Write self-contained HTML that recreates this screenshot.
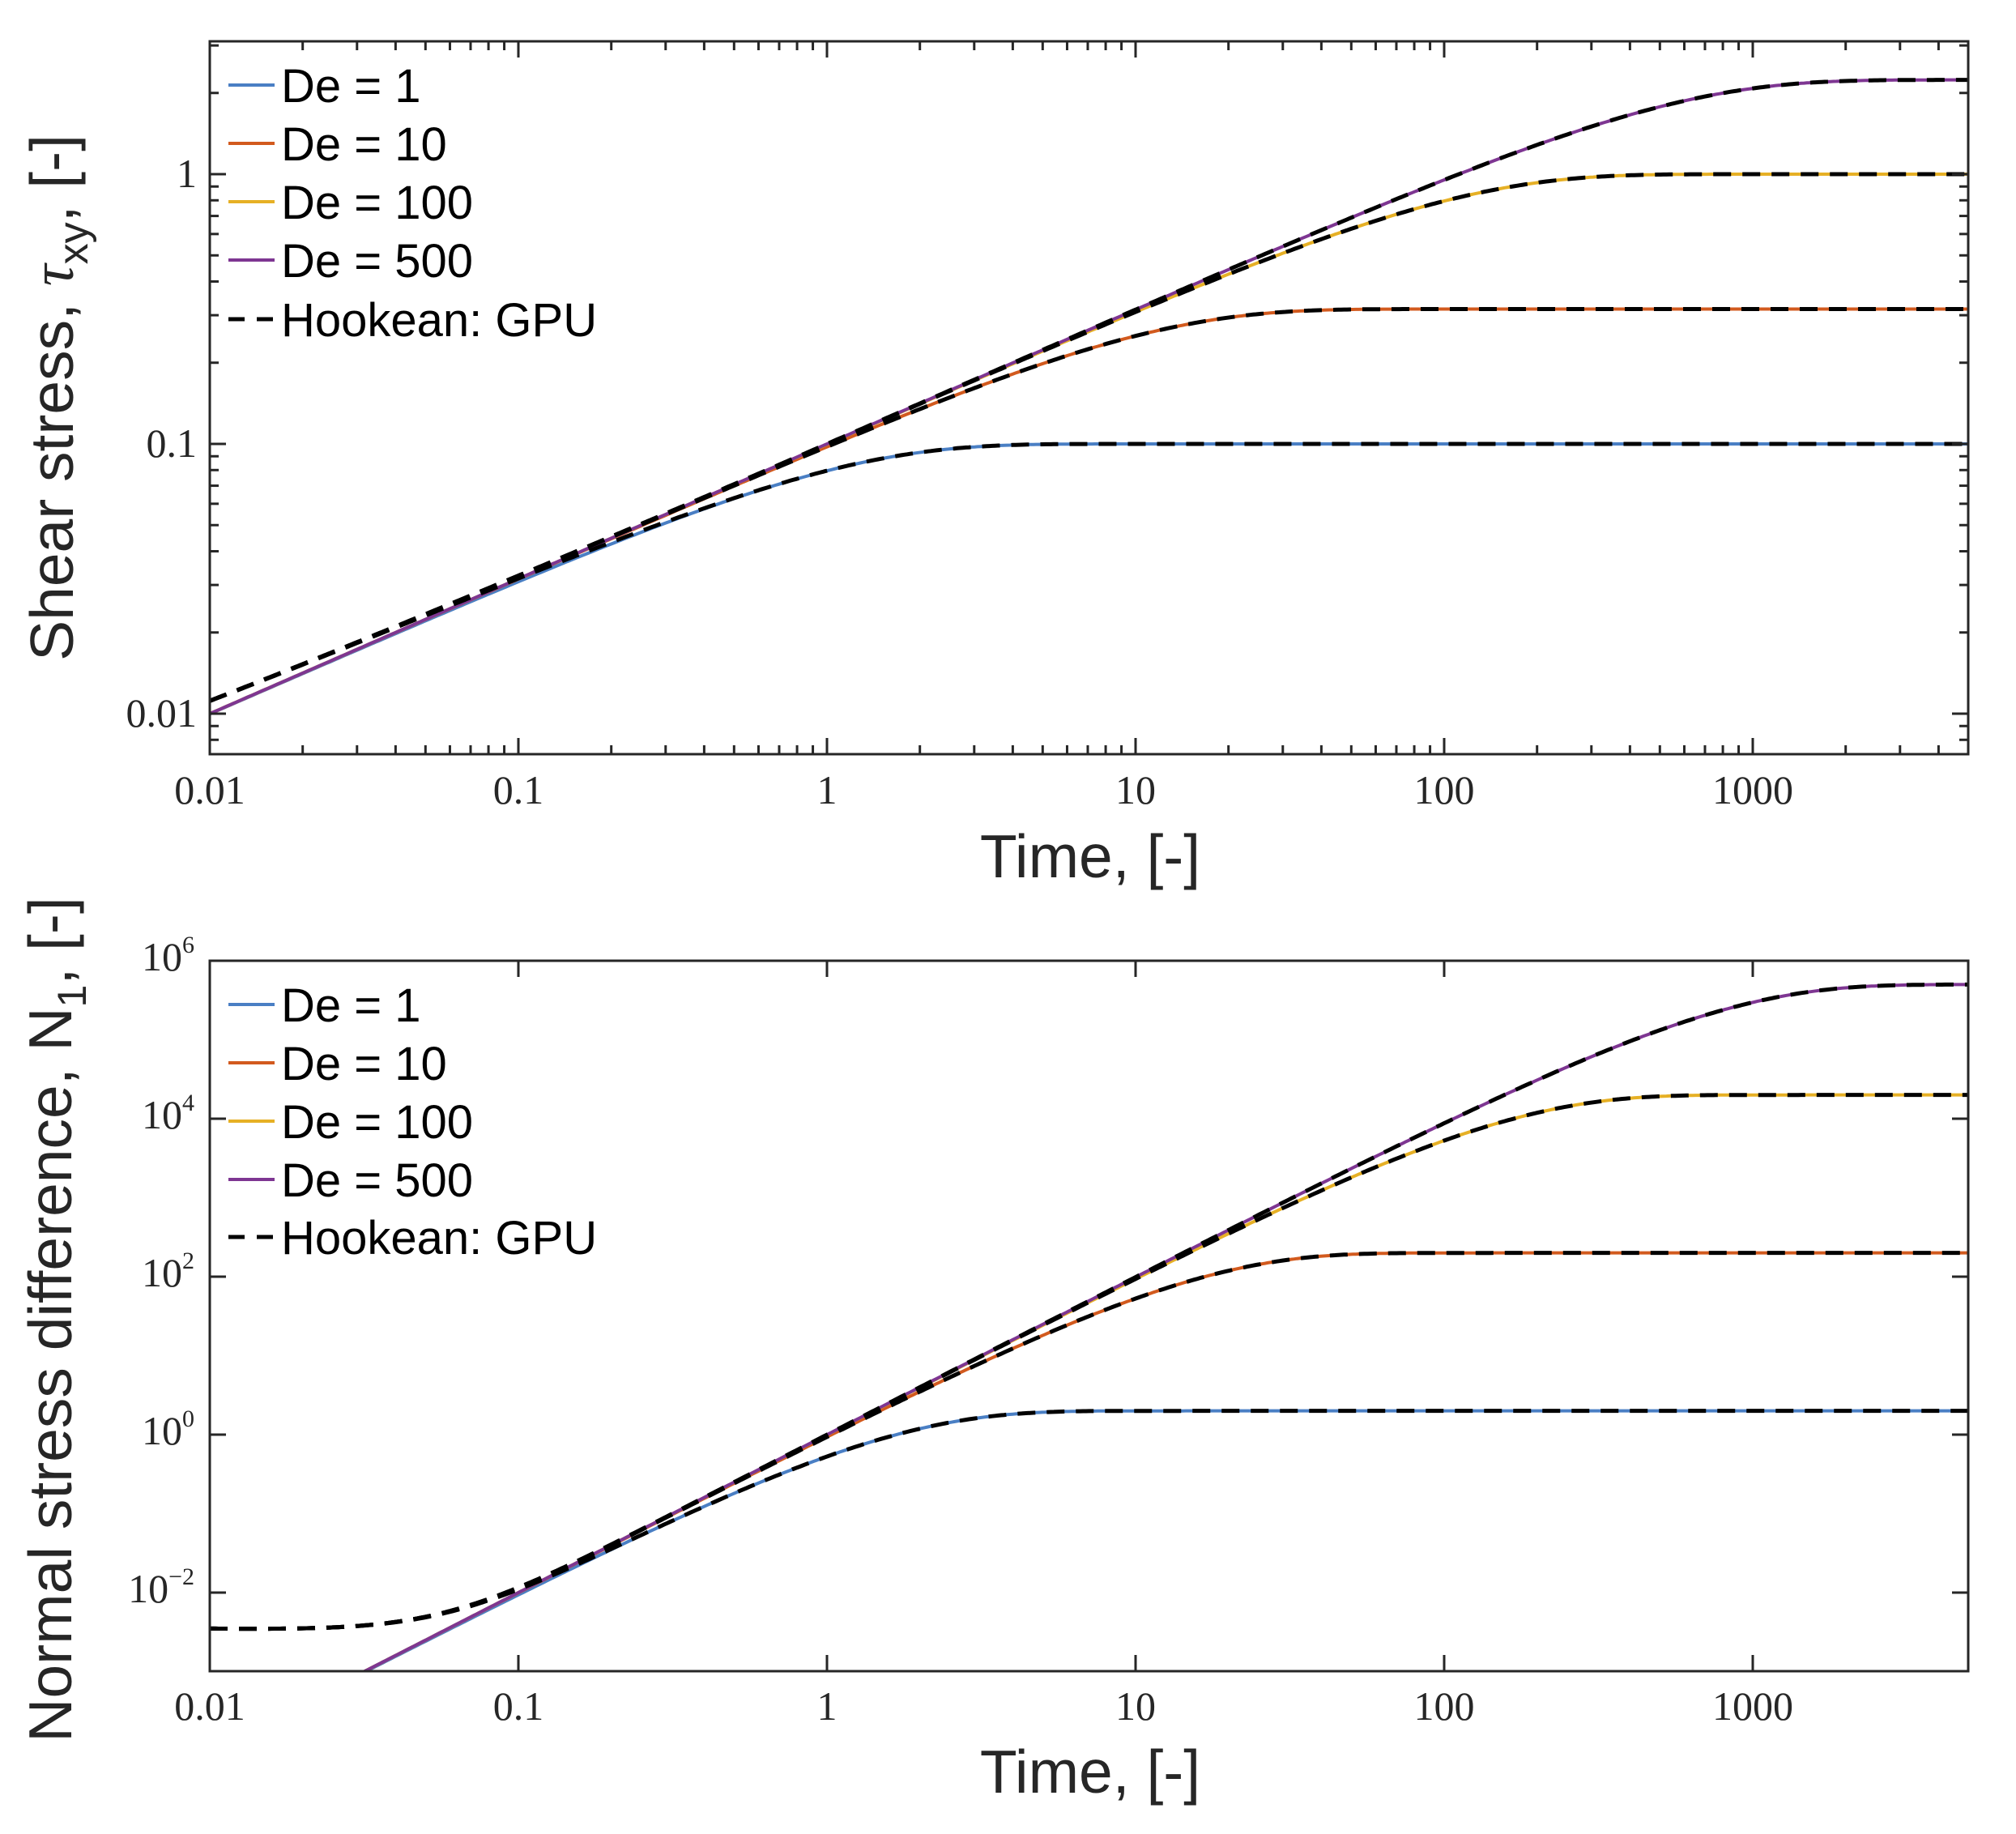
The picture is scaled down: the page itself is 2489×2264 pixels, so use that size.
<!DOCTYPE html>
<html><head><meta charset="utf-8">
<style>
html,body{margin:0;padding:0;background:#fff;}
svg{display:block;}
.tk{font-family:"Liberation Serif",serif;font-size:50px;fill:#262626;}
.lg{font-family:"Liberation Sans",sans-serif;font-size:58px;fill:#000;}
.al{font-family:"Liberation Sans",sans-serif;font-size:75px;fill:#262626;}
</style></head>
<body>
<svg id="s" width="2489" height="2264" viewBox="0 0 2489 2264" xmlns="http://www.w3.org/2000/svg">
<defs>
<clipPath id="c1"><rect x="259" y="51" width="2171" height="880"/></clipPath>
<clipPath id="c2"><rect x="259" y="1186" width="2171" height="877"/></clipPath>
</defs>
<rect width="2489" height="2264" fill="#fff"/>
<g id="g1" clip-path="url(#c1)"></g>
<g id="g2" clip-path="url(#c2)"></g>
<g id="ax" stroke="#262626" stroke-width="3" fill="none"></g>
<g id="tx"></g>

<text class="al" x="1346" y="1083" text-anchor="middle">Time, [-]</text>
<text class="al" x="1346" y="2213" text-anchor="middle">Time, [-]</text>
<text class="al" transform="translate(90,491) rotate(-90)" text-anchor="middle">Shear stress, <tspan font-family="Liberation Serif" font-style="italic">τ</tspan><tspan font-size="52" dy="18">xy</tspan><tspan dy="-18">, [-]</tspan></text>
<text class="al" font-size="72" transform="translate(88,1629) rotate(-90)" text-anchor="middle">Normal stress difference, N<tspan font-size="50" dy="18">1</tspan><tspan dy="-18">, [-]</tspan></text>

<g id="leg"></g>
</svg>
<script>
var NS="http://www.w3.org/2000/svg";
function el(p,t,a,txt){var e=document.createElementNS(NS,t);for(var k in a)e.setAttribute(k,a[k]);if(txt!==undefined)e.textContent=txt;p.appendChild(e);return e;}
var X0=259,X1=2430,XD=381;
function xp(t){return X0+XD*(Math.log10(t)+2);}
var cols=["#4a7fc4","#d25a1e","#e6b025","#7e3692"];
var De=[1,10,100,500];
var tmax=Math.pow(10,(X1-X0)/XD-2);
function y1(v){return 215-333*Math.log10(v);}
function y2(v){return 1771-97.5*Math.log10(v);}
var g1=document.getElementById("g1"),g2=document.getElementById("g2");
function path(f,yf,off){var d="";for(var i=0;i<=600;i++){var lt=-2+i/600*(Math.log10(tmax)+2);var t=Math.pow(10,lt);var v=f(t,off);d+=(i?"L":"M")+xp(t).toFixed(1)+","+yf(v).toFixed(1);}return d;}
function tau(D){return function(t,o){return 0.1*Math.sqrt(D*(1-Math.exp(-t/D)))+(o?0.0012*Math.exp(-t/0.3):0);};}
function n1(D){return function(t,o){var x=t/D;var g=x<1e-4?x*x/2:(1-Math.exp(-x)*(1+x));return 2*D*D*g+(o?0.0037*Math.exp(-t/0.12):0);};}
for(var i=0;i<4;i++){el(g1,"path",{d:path(tau(De[i]),y1,0),stroke:cols[i],"stroke-width":4,fill:"none"});}
for(var i=0;i<4;i++){el(g1,"path",{d:path(tau(De[i]),y1,1),stroke:"#000","stroke-width":5,fill:"none","stroke-dasharray":"22,14"});}
for(var i=0;i<4;i++){el(g2,"path",{d:path(n1(De[i]),y2,0),stroke:cols[i],"stroke-width":4,fill:"none"});}
for(var i=0;i<4;i++){el(g2,"path",{d:path(n1(De[i]),y2,1),stroke:"#000","stroke-width":5,fill:"none","stroke-dasharray":"22,14"});}
var ax=document.getElementById("ax"),tx=document.getElementById("tx");
el(ax,"rect",{x:259,y:51,width:2171,height:880});
el(ax,"rect",{x:259,y:1186,width:2171,height:877});
var xl=["0.01","0.1","1","10","100","1000"];
function xticks(top,bot,minor){
 for(var e=-2;e<=3;e++){
  for(var m=1;m<=9;m++){
   var t=m*Math.pow(10,e);if(t>tmax)break;if(m>1&&!minor)continue;
   var x=xp(t),L=m==1?20:11;
   el(ax,"line",{x1:x,y1:bot,x2:x,y2:bot-L});el(ax,"line",{x1:x,y1:top,x2:x,y2:top+L});
  }
 }
}
xticks(51,931,true);xticks(1186,2063,false);
for(var e=-2;e<=3;e++){var x=xp(Math.pow(10,e));el(tx,"text",{class:"tk",x:x,y:992,"text-anchor":"middle"},xl[e+2]);el(tx,"text",{class:"tk",x:x,y:2123,"text-anchor":"middle"},xl[e+2]);}
for(var e=-3;e<=0;e++){for(var m=1;m<=9;m++){var v=m*Math.pow(10,e);var y=y1(v);if(y<51||y>931)continue;var L=m==1?20:11;el(ax,"line",{x1:259,y1:y,x2:259+L,y2:y});el(ax,"line",{x1:2430,y1:y,x2:2430-L,y2:y});}}
var yl=[["1",1],["0.1",0.1],["0.01",0.01]];
yl.forEach(function(p){el(tx,"text",{class:"tk",x:243,y:y1(p[1])+16,"text-anchor":"end"},p[0]);});
[-2,0,2,4,6].forEach(function(e){var y=y2(Math.pow(10,e));if(e<6){el(ax,"line",{x1:259,y1:y,x2:279,y2:y});el(ax,"line",{x1:2430,y1:y,x2:2410,y2:y});}
 var t=el(tx,"text",{class:"tk",x:240,y:y+12,"text-anchor":"end"});
 var a=document.createElementNS(NS,"tspan");a.textContent="10";t.appendChild(a);
 var b=document.createElementNS(NS,"tspan");b.setAttribute("font-size","30");b.setAttribute("dy","-22");b.textContent=(e<0?"\u2212":"")+Math.abs(e);t.appendChild(b);
});
var leg=document.getElementById("leg");
var labs=["De = 1","De = 10","De = 100","De = 500"];
function legend(ys){
 for(var i=0;i<4;i++){el(leg,"line",{x1:282,y1:ys[i],x2:339,y2:ys[i],stroke:cols[i],"stroke-width":4});el(leg,"text",{class:"lg",x:347,y:ys[i]+21},labs[i]);}
 el(leg,"line",{x1:282,y1:ys[4],x2:339,y2:ys[4],stroke:"#000","stroke-width":5,"stroke-dasharray":"20,15"});
 el(leg,"text",{class:"lg",x:347,y:ys[4]+21},"Hookean: GPU");
}
legend([105,177,249,321,394]);
legend([1240,1312,1384,1456,1527]);
</script>
</body></html>
